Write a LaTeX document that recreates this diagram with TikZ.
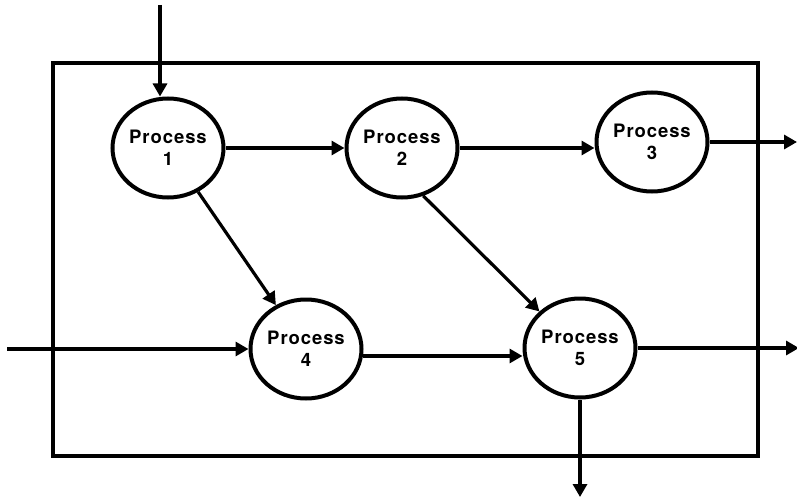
\documentclass[tikz,border=0pt]{standalone}
\usepackage{fontspec}
\setmainfont{TeX Gyre Heros}[LetterSpace=5]
\usetikzlibrary{arrows.meta,shapes.geometric}
\begin{document}
\begin{tikzpicture}[x=1pt,y=-1pt,
  proc/.style={draw,ellipse,line width=4pt,minimum width=111pt,minimum height=99pt,inner sep=0pt,
    align=center,font=\fontsize{18.5pt}{22pt}\selectfont\bfseries},
  arr/.style={line width=3.2pt,-{Triangle[length=13pt,width=14pt]}},
  frame/.style={line width=3.2pt}]
\useasboundingbox (0,0) rectangle (797,500);
\draw[frame] (53,63) rectangle (758,456);
\node[proc] (p1) at (168,148) {Process\\1};
\node[proc] (p2) at (402,148) {Process\\2};
\node[proc] (p3) at (652,142) {Process\\3};
\node[proc] (p4) at (306,349) {Process\\4};
\node[proc] (p5) at (580,348) {Process\\5};
\coordinate (in1) at (160,5);
\coordinate (in4) at (7,349);
\coordinate (out3) at (797,142);
\coordinate (out5) at (799,348);
\coordinate (out5d) at (580,497);
\draw[arr] (in1) -- (in1 |- p1.north);
\draw[arr] (p1.east) -- (p2.west);
\draw[arr] (p2.east) -- (p2.east -| p3.west);
\draw[arr] (p3.east) -- (out3);
\draw[arr] (in4) -- (p4.west);
\draw[arr] (p4.-7) -- (p4.-7 -| p5.west);
\draw[arr] (p5.east) -- (out5);
\draw[arr] (p5.south) -- (out5d);
\draw[arr] (p1) -- (p4);
\draw[arr] (p2.-66) -- (p5.138);
\end{tikzpicture}
\end{document}
